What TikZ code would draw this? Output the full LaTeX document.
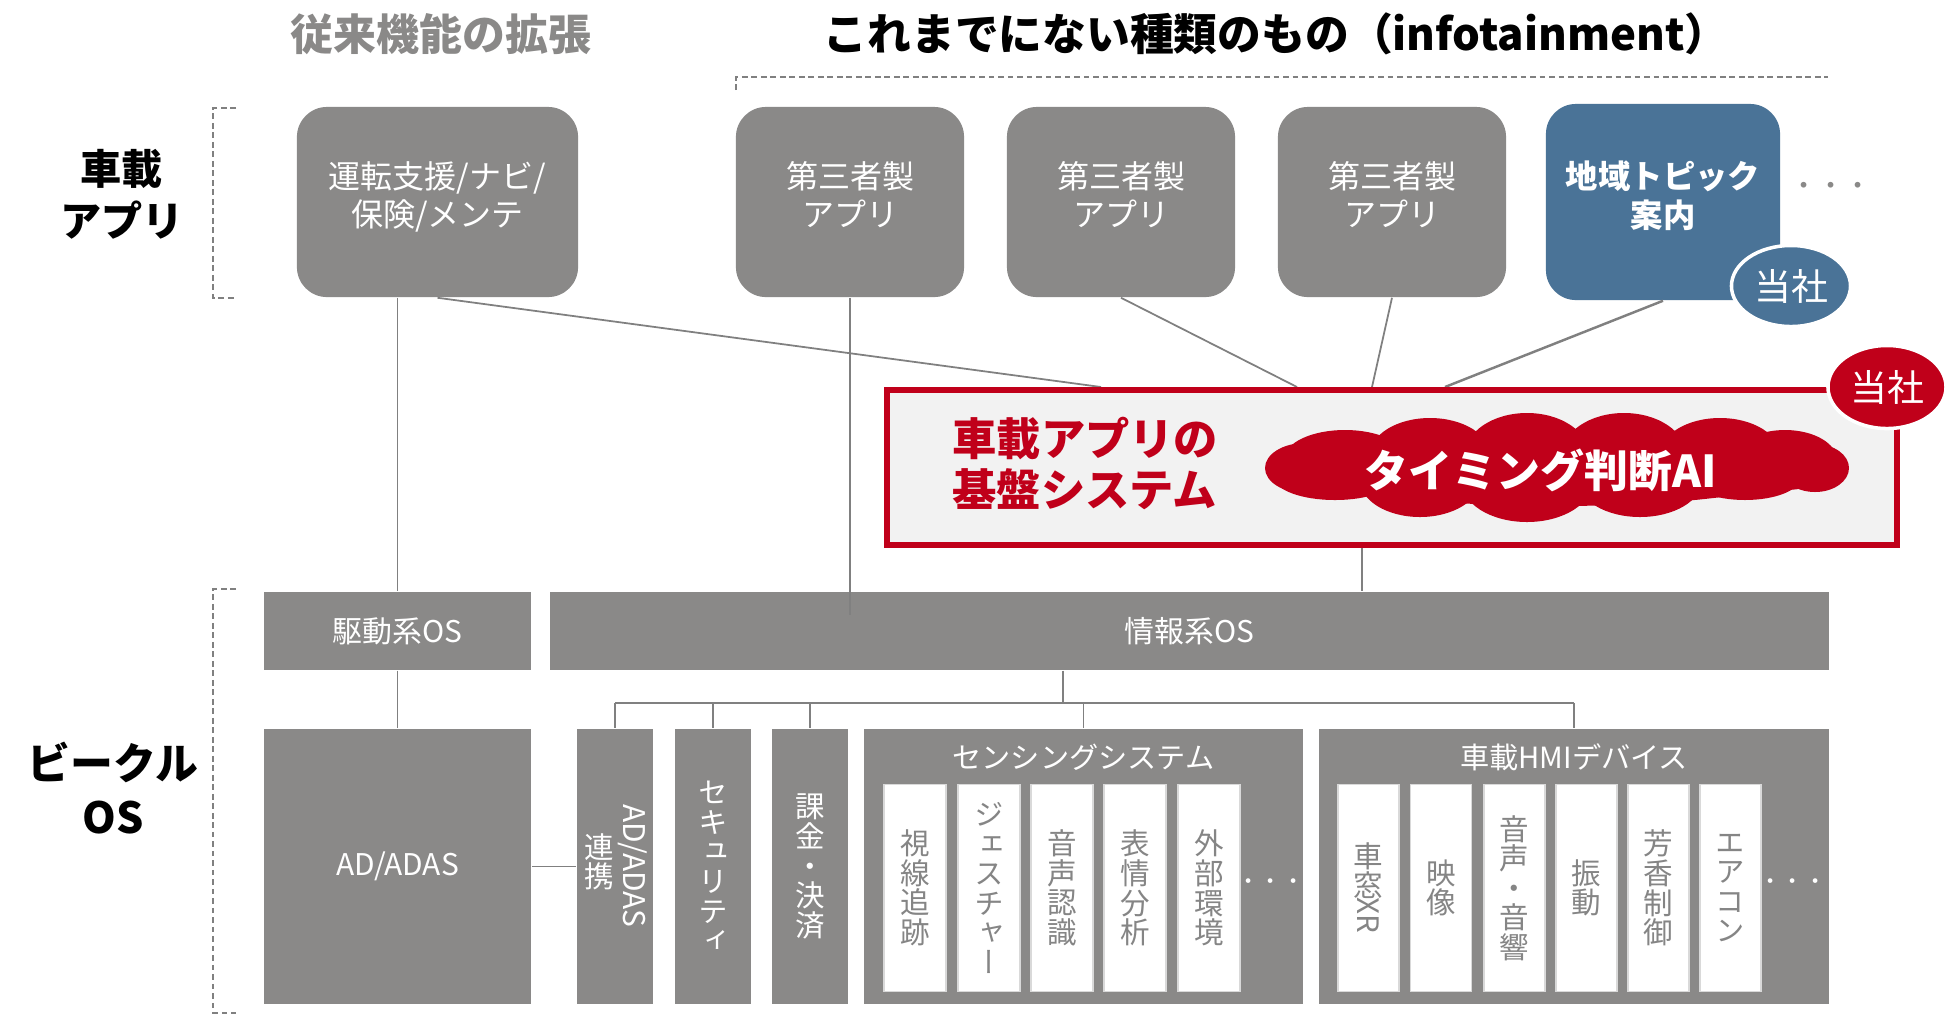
\documentclass[tikz,border=0pt]{standalone}
\usepackage{fontspec}
\usepackage{graphicx}
\setmainfont{Noto Sans CJK JP}
\newfontfamily\jpv[RawFeature=+vert]{Noto Sans CJK JP}
\usetikzlibrary{shapes.geometric,calc}
\definecolor{boxgray}{HTML}{8A8988}
\definecolor{linegray}{HTML}{808080}
\definecolor{compblue}{HTML}{4A7397}
\definecolor{compred}{HTML}{C0001A}
\definecolor{basebg}{HTML}{F2F2F2}
\definecolor{txtgray}{HTML}{858585}
\newcommand{\lowpad}{\rule[-4.5pt]{0pt}{0pt}}
\begin{document}
\begin{tikzpicture}[x=0.01cm,y=-0.01cm,
  appbox/.style={rectangle, rounded corners=0.3cm, fill=boxgray, text=white, align=center,
    font=\fontsize{9.1}{10.9}\selectfont, inner sep=0pt},
  osbox/.style={rectangle, fill=boxgray, text=white, inner sep=0pt,
    font=\fontsize{8.5}{10}\selectfont},
  vtxt/.style={align=center, font={\jpv\fontsize{8.4}{8.4}\selectfont\lineskiplimit=-20pt\relax}},
  wbox/.style={rectangle, fill=white, draw=white!85!black, line width=0.3pt, inner sep=0pt,
    minimum height=2.06cm, text=txtgray, vtxt},
  colbox/.style={osbox, minimum width=0.76cm, minimum height=2.75cm, vtxt},
  conn/.style={draw=linegray, line width=0.5pt},
  brk/.style={draw=linegray, line width=0.4pt, dash pattern=on 1.6pt off 1.1pt},
  usnode/.style={ellipse, draw=white, line width=1pt, inner sep=0pt, text=white,
    font=\fontsize{10.5}{12}\selectfont}
]
\useasboundingbox (0,0) rectangle (1950,1017);
\fill[white] (0,0) rectangle (1950,1017);

% titles
\node[text=boxgray, font=\fontsize{12.2}{14}\selectfont\bfseries] (t1) at (441,34) {従来機能の拡張};
\node[text=black, font=\fontsize{12.45}{14}\selectfont\bfseries] (t2) at (1276,34) {これまでにない種類のもの（infotainment）};

% side labels
\node[align=center, font=\fontsize{11.7}{14.8}\selectfont\bfseries] (lab1) at (122,194) {車載\\アプリ};
\node[align=center, font=\fontsize{12.2}{15.4}\selectfont\bfseries] (lab2) at (113,788) {ビークル\\OS};

% brackets
\draw[brk] (236,108) -- (213,108) -- (213,298) -- (236,298);
\draw[brk] (236,589) -- (213,589) -- (213,1013) -- (236,1013);
\draw[brk] (736,90) -- (736,77) -- (1828,77);

% apps
\node[appbox, minimum width=2.81cm, minimum height=1.9cm] (app1) at (437.5,202) {運転支援/ナビ/\\保険/メンテ\lowpad};
\node[appbox, minimum width=2.28cm, minimum height=1.9cm] (app2) at (850,202) {第三者製\\アプリ\lowpad};
\node[appbox, minimum width=2.28cm, minimum height=1.9cm] (app3) at (1121,202) {第三者製\\アプリ\lowpad};
\node[appbox, minimum width=2.28cm, minimum height=1.9cm] (app4) at (1392,202) {第三者製\\アプリ\lowpad};
\node[appbox, fill=compblue, minimum width=2.34cm, minimum height=1.96cm,
  font=\fontsize{9.2}{10.9}\selectfont\bfseries] (topic) at (1663,202) {地域トピック\\案内\lowpad};
\node[usnode, fill=compblue, minimum width=1.19cm, minimum height=0.81cm] (us1) at (1791,286) {当社};
\node[text=boxgray, font=\fontsize{7.7}{9}\selectfont] (dots1) at (1831,189) {・・・};

% OS level
\node[osbox, minimum width=2.67cm, minimum height=0.78cm] (drv) at (397.5,631) {駆動系OS};
\node[osbox, minimum width=12.79cm, minimum height=0.78cm] (info) at (1189.5,631) {情報系OS};

% connectors from apps
\coordinate (b1) at (1101,387);
\coordinate (b2) at (1297,387);
\coordinate (b3) at (1372,387);
\coordinate (b4) at (1445,387);
\draw[conn] (app1.south) -- (b1);
\draw[conn] (drv.north |- app1.south) -- (drv.north);
\draw[conn] (app2.south) -- ($(app2.south |- info.north)+(0,24)$);
\draw[conn] (app3.south) -- (b2);
\draw[conn] (app4.south) -- (b3);
\draw[conn, line width=0.7pt] (topic.south) -- (b4);

% base system
\node[rectangle, draw=compred, line width=1.7pt, fill=basebg, minimum width=10.1cm,
  minimum height=1.55cm, inner sep=0pt] (base) at (1392,467.5) {};
\node[usnode, fill=compred, minimum width=1.18cm, minimum height=0.83cm] (us2) at (1887,387) {当社};
\node[anchor=west, align=left, text=compred, font=\fontsize{12.6}{14.5}\selectfont\bfseries]
  (basetxt) at (940,463) {車載アプリの\\基盤システム};

% cloud
\begin{scope}[fill=compred]
  \fill (1557,468) ellipse (255 and 38);
  \fill (1345,458) ellipse (60 and 28);
  \fill (1430,455) ellipse (60 and 37);
  \fill (1527,455) ellipse (62 and 42);
  \fill (1624,455) ellipse (62 and 42);
  \fill (1720,455) ellipse (60 and 37);
  \fill (1785,460) ellipse (52 and 30);
  \fill (1335,478) ellipse (60 and 22);
  \fill (1420,480) ellipse (60 and 37);
  \fill (1527,482) ellipse (65 and 40);
  \fill (1640,480) ellipse (62 and 37);
  \fill (1745,478) ellipse (55 and 22);
  \fill (1305,468) ellipse (40 and 25);
  \fill (1815,468) ellipse (34 and 24);
\end{scope}
\node[text=white, font=\fontsize{12.5}{14}\selectfont\bfseries] (ai) at (1541,470) {タイミング判断AI};

\coordinate (bdown) at (1362,0);
\draw[conn] (bdown |- base.south) -- (bdown |- info.north);

% lower level
\node[osbox, minimum width=2.67cm, minimum height=2.75cm] (adas) at (397.5,866.5) {AD/ADAS};
\node[osbox, minimum width=0.76cm, minimum height=2.75cm] (link) at (615,866.5) {};
\node[rotate=-90, text=white, font=\fontsize{8.5}{10}\selectfont] (linkA) at (633,866) {AD/ADAS};
\node[vtxt, text=white] (linkB) at (599,862) {連\\携};
\node[colbox] (sec) at (713,866.5) {セ\\キ\\ュ\\リ\\テ\\ィ};
\node[colbox] (pay) at (810,866.5) {課\\金\\・\\決\\済};
\node[osbox, minimum width=4.39cm, minimum height=2.75cm] (sens) at (1083.5,866.5) {};
\node[osbox, minimum width=5.10cm, minimum height=2.75cm] (hmi) at (1574,866.5) {};
\node[text=white, font=\fontsize{8.3}{10}\selectfont] (senst) at (1083.5,757) {センシングシステム};
\node[text=white, font=\fontsize{8.3}{10}\selectfont] (hmit) at (1574,757) {車載HMIデバイス};

\node[wbox, minimum width=0.62cm] (s1) at (915,888) {視\\線\\追\\跡};
\node[wbox, minimum width=0.62cm] (s2) at (989,888) {ジ\\ェ\\ス\\チ\\ャ\\ー};
\node[wbox, minimum width=0.62cm] (s3) at (1062,888) {音\\声\\認\\識};
\node[wbox, minimum width=0.62cm] (s4) at (1135,888) {表\\情\\分\\析};
\node[wbox, minimum width=0.62cm] (s5) at (1209,888) {外\\部\\環\\境};
\node[text=white, font=\fontsize{6.3}{8}\selectfont] (dots2) at (1271,884) {・・・};

\node[wbox, minimum width=0.61cm] (h1) at (1368.5,888) {車\\窓\\\rotatebox[origin=c]{-90}{\normalfont XR}};
\node[wbox, minimum width=0.61cm] (h2) at (1441,888) {映\\像};
\node[wbox, minimum width=0.61cm] (h3) at (1514.5,888) {音\\声\\・\\音\\響};
\node[wbox, minimum width=0.61cm] (h4) at (1586.5,888) {振\\動};
\node[wbox, minimum width=0.61cm] (h5) at (1658.5,888) {芳\\香\\制\\御};
\node[wbox, minimum width=0.61cm] (h6) at (1730.5,888) {エ\\ア\\コ\\ン};
\node[text=white, font=\fontsize{6.3}{8}\selectfont] (dots3) at (1793,884) {・・・};

% lower connectors
\draw[conn] (drv.south) -- (adas.north);
\draw[conn] (adas.east) -- (link.west);
\coordinate (trunk) at (1063,703);
\draw[conn] (trunk |- info.south) -- (trunk);
\draw[conn] (link.north |- trunk) -- (hmi.north |- trunk);
\draw[conn] (link.north |- trunk) -- (link.north);
\draw[conn] (sec.north |- trunk) -- (sec.north);
\draw[conn] (pay.north |- trunk) -- (pay.north);
\draw[conn] (sens.north |- trunk) -- (sens.north);
\draw[conn] (hmi.north |- trunk) -- (hmi.north);
\end{tikzpicture}
\end{document}
